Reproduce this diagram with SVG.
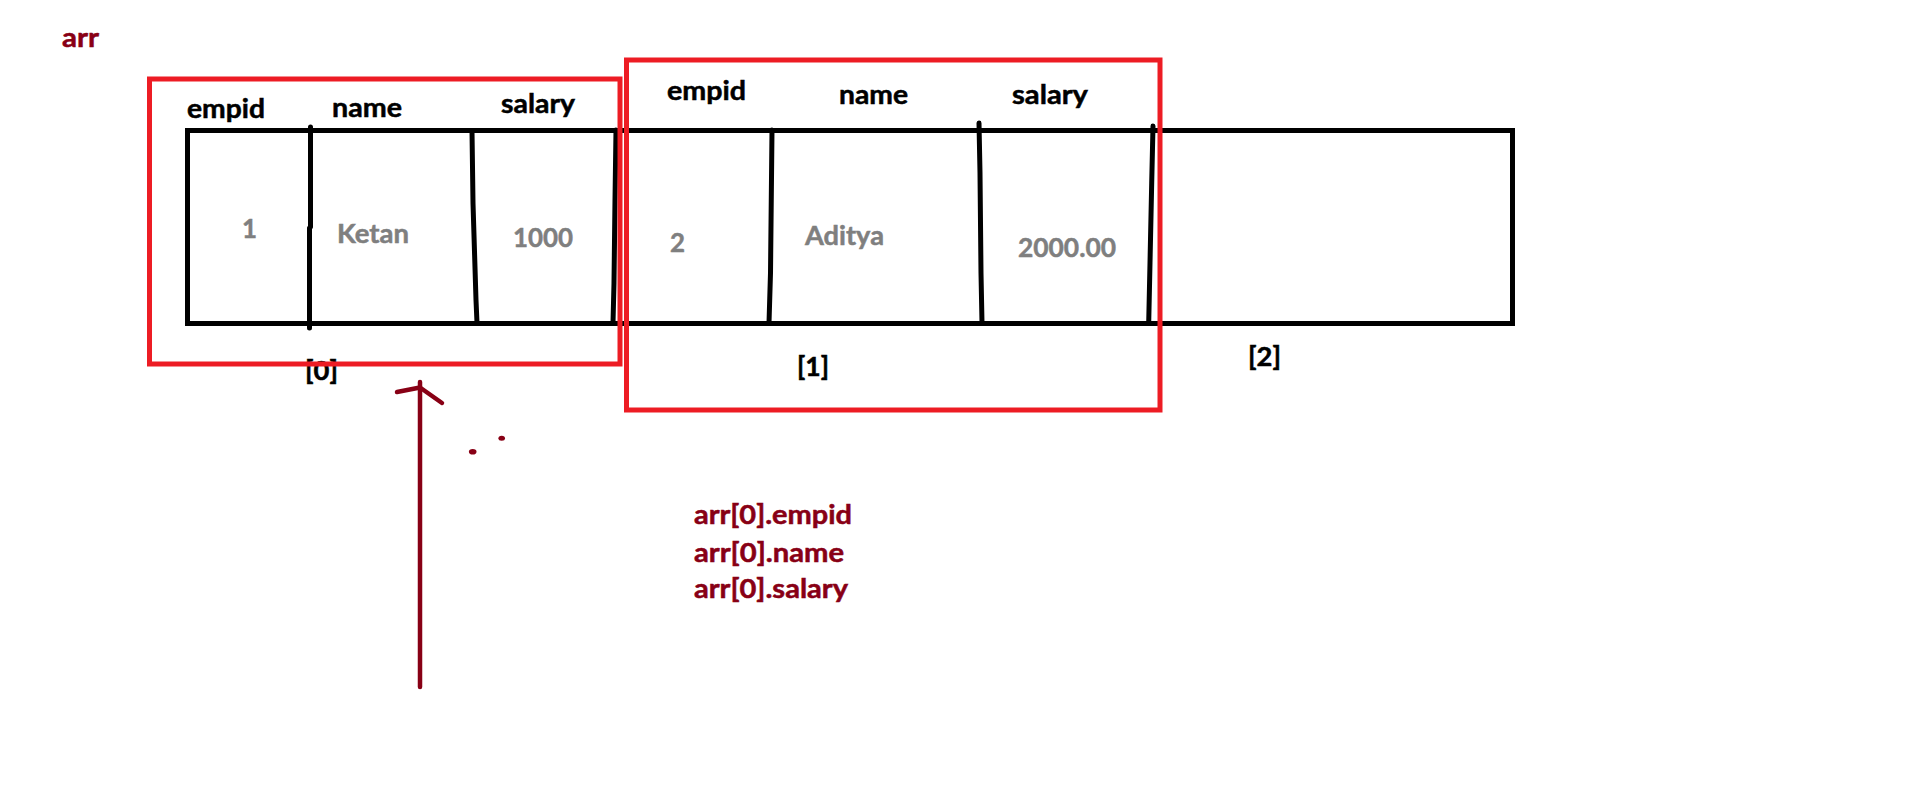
<svg xmlns="http://www.w3.org/2000/svg" width="1914" height="809" viewBox="0 0 1914 809">
  <style>
    text { font-family: Lato, "Open Sans", "Liberation Sans", sans-serif; font-weight: bold; font-size: 26px; stroke-width: 0.5; }
    .hdr { fill: #000000; stroke: #000000; }
    .val { fill: #7f7f7f; stroke: #7f7f7f; }
    .idx { fill: #000000; stroke: #000000; }
    .note { fill: #880015; stroke: #880015; }
    .cell { fill: none; stroke: #000000; stroke-width: 5; }
    .div { fill: none; stroke: #000000; stroke-width: 5; stroke-linecap: round; stroke-linejoin: round; }
    .sel { fill: none; stroke: #ed1c24; stroke-width: 5; }
    .arrow { fill: none; stroke: #880015; stroke-width: 4.5; stroke-linecap: round; stroke-linejoin: round; }
  </style>
  <rect width="1914" height="809" fill="#ffffff"/>

  <g id="label-arr">
    <text class="note" x="62" y="47" textLength="37" lengthAdjust="spacingAndGlyphs">arr</text>
  </g>

  <g id="array-frame">
    <rect class="cell" x="187.5" y="130.5" width="1325" height="193"/>
  </g>

  <g id="element-0">
    <text class="hdr" x="187" y="118" textLength="78" lengthAdjust="spacingAndGlyphs">empid</text>
    <text class="hdr" x="332" y="117" textLength="70" lengthAdjust="spacingAndGlyphs">name</text>
    <text class="hdr" x="501" y="113" textLength="74" lengthAdjust="spacingAndGlyphs">salary</text>
    <polyline class="div" points="310.5,127 310.5,227 309.5,228 309.5,328"/>
    <polyline class="div" points="472,131 473,203 476,300 477,323"/>
    <polyline class="div" points="616,130 615,200 614,283 613,323"/>
    <text class="val" x="242" y="238" textLength="15" lengthAdjust="spacingAndGlyphs">1</text>
    <text class="val" x="337" y="243" textLength="72" lengthAdjust="spacingAndGlyphs">Ketan</text>
    <text class="val" x="513" y="247" textLength="60" lengthAdjust="spacingAndGlyphs">1000</text>
    <text class="idx" x="305" y="380" textLength="33" lengthAdjust="spacingAndGlyphs">[0]</text>
  </g>

  <g id="element-1">
    <text class="hdr" x="667" y="100" textLength="79" lengthAdjust="spacingAndGlyphs">empid</text>
    <text class="hdr" x="839" y="104" textLength="69" lengthAdjust="spacingAndGlyphs">name</text>
    <text class="hdr" x="1012" y="104" textLength="76" lengthAdjust="spacingAndGlyphs">salary</text>
    <polyline class="div" points="772,130 771.5,178 770.5,273 769,323"/>
    <polyline class="div" points="979,123 980,173 981,273 982,323"/>
    <polyline class="div" points="1153,126 1151.7,183 1150,263 1148.7,323"/>
    <text class="val" x="670" y="252" textLength="15" lengthAdjust="spacingAndGlyphs">2</text>
    <text class="val" x="805" y="245" textLength="79" lengthAdjust="spacingAndGlyphs">Aditya</text>
    <text class="val" x="1018" y="257" textLength="98" lengthAdjust="spacingAndGlyphs">2000.00</text>
    <text class="idx" x="797" y="376" textLength="32" lengthAdjust="spacingAndGlyphs">[1]</text>
  </g>

  <g id="element-2">
    <text class="idx" x="1248" y="366" textLength="33" lengthAdjust="spacingAndGlyphs">[2]</text>
  </g>

  <g id="selection-0">
    <rect class="sel" x="149.5" y="79" width="470.5" height="285"/>
  </g>
  <g id="selection-1">
    <rect class="sel" x="626.5" y="60" width="533.5" height="350"/>
  </g>

  <g id="connectors">
    <line class="arrow" x1="420" y1="382" x2="420" y2="687"/>
    <polyline class="arrow" points="397,392 420,387.5 442,403"/>
    <ellipse cx="472.7" cy="451.7" rx="3.8" ry="2.8" fill="#880015"/>
    <ellipse cx="501.7" cy="438.3" rx="3.3" ry="2.5" fill="#880015"/>
  </g>

  <g id="access-notes">
    <text class="note" x="694" y="524" textLength="158" lengthAdjust="spacingAndGlyphs">arr[0].empid</text>
    <text class="note" x="694" y="562" textLength="150" lengthAdjust="spacingAndGlyphs">arr[0].name</text>
    <text class="note" x="694" y="598" textLength="154" lengthAdjust="spacingAndGlyphs">arr[0].salary</text>
  </g>
</svg>
